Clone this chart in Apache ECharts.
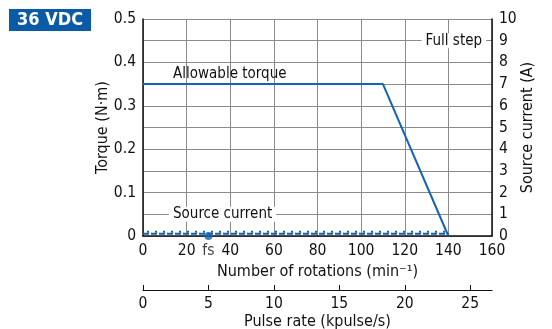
<!DOCTYPE html>
<html><head><meta charset="utf-8">
<script src="https://cdn.jsdelivr.net/npm/echarts@6/dist/echarts.min.js"></script>
<style>html,body{margin:0;padding:0;background:#fff}#c{width:552px;height:329px}</style>
</head><body><div id="c"></div>
<script>
// Data
const torqueRpm = [0, 110, 140];
const torqueVal = [0.35, 0.35, 0];
const currentRpm = [0, 140];
const currentHalf = [0.1, 0.1];     // source current (A), dashed
const currentFull = [0.2, 0.2];     // full step source current (A), dotted
const fsRpm = 30;
const xTicks = [0, 20, 40, 60, 80, 100, 120, 140, 160];
const pulseTicks = [0, 5, 10, 15, 20, 25];

const FONT = '"Liberation Sans Narrow","DejaVu Sans Condensed","Liberation Sans",sans-serif';
const BLUE = '#1464b4';
const GRID = '#8a8a8a';
const chart = echarts.init(document.getElementById('c'), null, {renderer: 'canvas'});
const tick = {fontFamily: FONT, fontSize: 15.5, color: '#111'};
const nameTxt = {fontFamily: FONT, fontSize: 16, color: '#111'};
const ann = {fontFamily: FONT, fontSize: 15, color: '#111'};

chart.setOption({
  animation: false,
  title: {
    text: '36 VDC', left: 9, top: 9,
    backgroundColor: '#0a5aa6', padding: [2, 8, 2, 8],
    textStyle: {color: '#fff', fontFamily: FONT, fontSize: 18, fontWeight: 'bold'}
  },
  grid: {left: 143, right: 60, top: 19, bottom: 93, outerBoundsMode: 'none', containLabel: false},
  xAxis: [{
    type: 'value', min: 0, max: 160, interval: 20,
    name: 'Number of rotations (min⁻¹)', nameLocation: 'middle', nameGap: 28, nameMoveOverlap: false,
    nameTextStyle: nameTxt,
    axisLine: {show: true, onZero: false, lineStyle: {color: '#111', width: 1.5}},
    axisTick: {show: false},
    axisLabel: Object.assign({margin: 7}, tick),
    splitLine: {show: true, lineStyle: {color: GRID, width: 1}}
  }, {
    type: 'value', position: 'bottom', offset: 54, min: 0, max: 160 / 6, interval: 5,
    name: 'Pulse rate (kpulse/s)', nameLocation: 'middle', nameGap: 24, nameMoveOverlap: false,
    nameTextStyle: nameTxt,
    axisLine: {show: true, onZero: false, lineStyle: {color: '#111', width: 1.2}},
    axisTick: {show: true, inside: true, length: 5, lineStyle: {color: '#111'}},
    axisLabel: Object.assign({margin: 6, showMaxLabel: false}, tick),
    splitLine: {show: false}
  }],
  yAxis: [{
    type: 'value', min: 0, max: 0.5, interval: 0.1, position: 'left',
    name: 'Torque (N·m)', nameLocation: 'middle', nameGap: 32, nameRotate: 90, nameMoveOverlap: false,
    nameTextStyle: nameTxt,
    axisLine: {show: true, onZero: false, lineStyle: {color: '#111', width: 1.5}},
    axisTick: {show: false},
    axisLabel: Object.assign({margin: 7, formatter: v => (v === 0 ? '0' : v.toFixed(1))}, tick),
    splitLine: {show: false}
  }, {
    type: 'value', min: 0, max: 10, interval: 1, position: 'right',
    name: 'Source current (A)', nameLocation: 'middle', nameGap: 28, nameRotate: 90, nameMoveOverlap: false,
    nameTextStyle: nameTxt,
    axisLine: {show: true, onZero: false, lineStyle: {color: '#111', width: 1.5}},
    axisTick: {show: false},
    axisLabel: Object.assign({margin: 7}, tick),
    splitLine: {show: true, lineStyle: {color: GRID, width: 1}}
  }],
  series: [{
    type: 'line', xAxisIndex: 0, yAxisIndex: 0, symbol: 'none',
    data: torqueRpm.map((x, i) => [x, torqueVal[i]]),
    lineStyle: {color: BLUE, width: 2},
    markPoint: {
      symbol: 'rect', symbolSize: 0,
      data: [{coord: [11.5, 0.372], value: 0}],
      label: Object.assign({show: true, position: 'right', formatter: 'Allowable torque'}, ann)
    }
  }, {
    type: 'line', xAxisIndex: 0, yAxisIndex: 1, symbol: 'none',
    data: currentRpm.map((x, i) => [x, currentHalf[i]]),
    lineStyle: {color: BLUE, width: 2, type: [6, 2]},
    markPoint: {
      symbol: 'rect', symbolSize: 0,
      data: [{coord: [36.5, 1], value: 0}],
      label: Object.assign({show: true, position: 'inside', formatter: 'Source current',
        backgroundColor: '#fff', padding: [0, 4]}, ann)
    }
  }, {
    type: 'line', xAxisIndex: 0, yAxisIndex: 1, symbol: 'none',
    data: currentRpm.map((x, i) => [x, currentFull[i]]),
    lineStyle: {color: BLUE, width: 2, type: [2, 6], dashOffset: 4},
    markPoint: {
      symbol: 'rect', symbolSize: 0,
      data: [{coord: [142.5, 9], value: 0}],
      label: Object.assign({show: true, position: 'inside', formatter: 'Full step',
        backgroundColor: '#fff', padding: [0, 4]}, ann)
    }
  }, {
    type: 'scatter', xAxisIndex: 0, yAxisIndex: 0, clip: false,
    data: [[fsRpm, 0]], symbolSize: 8, itemStyle: {color: BLUE}, z: 5,
    label: Object.assign({show: true, position: 'bottom', distance: 3, formatter: 'fs'}, tick)
  }]
});
</script>
</body></html>
